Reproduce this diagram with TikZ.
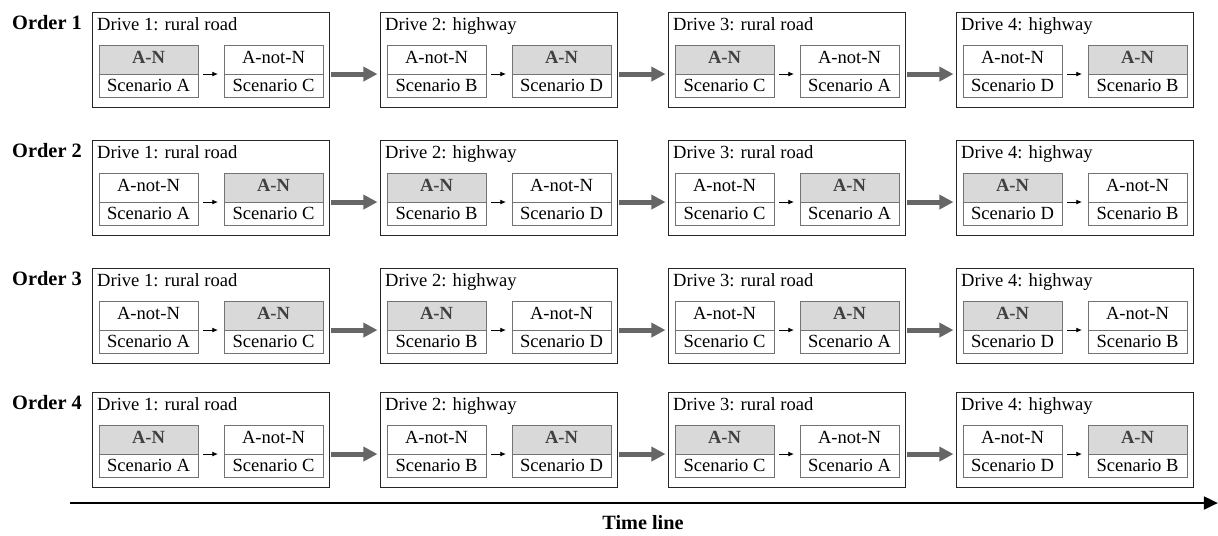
\documentclass[tikz,border=0pt]{standalone}
\usepackage{fontspec}
\setmainfont{Liberation Serif}
\usetikzlibrary{arrows.meta,shapes.multipart}

\begin{document}
\begin{tikzpicture}[x=0.025cm,y=-0.025cm,font=\fontsize{13.2}{15}\selectfont,
  drive/.style={draw=black!85,line width=0.7pt,minimum width=5.925cm,minimum height=2.375cm,anchor=north west,inner sep=0pt},
  title/.style={anchor=north west,inner xsep=3.5pt,inner ysep=4pt},
  scen/.style={rectangle split,rectangle split parts=2,draw=black!55,line width=0.6pt,minimum width=2.475cm,
    text height=9.6pt,text depth=3.6pt,inner ysep=3.4pt,inner xsep=2pt},
  scenan/.style={scen,rectangle split part fill={black!15,white}},
  smallarr/.style={-{Latex[length=4pt,width=3.5pt]},line width=0.6pt,shorten <=3.5pt,shorten >=4pt},
  bigarr/.style={-{Triangle[length=10pt,width=10pt]},line width=3.5pt,black!60,shorten <=5.5pt,shorten >=6.5pt},
  order/.style={anchor=north east,font=\fontsize{14.5}{16}\selectfont\bfseries,inner xsep=7pt,inner ysep=2pt},
]
\useasboundingbox (0,0) rectangle (1218,535);

% drives, scenarios and the short arrows inside each drive
\foreach \r/\y/\g in {1/12/1,2/140/2,3/268/2,4/392/1} {
  \foreach \c/\x/\road/\a/\b in {1/92/rural road/A/C,2/380/highway/B/D,3/668/rural road/C/A,4/956/highway/D/B} {
    \node[drive] (d\r\c) at (\x,\y) {};
    \node[title] (t\r\c) at (d\r\c.north west) {Drive \c: \road};
    \pgfmathtruncatemacro\k{mod(\c+\g,2)}
    \ifnum\k=0
      \node[scenan] (l\r\c) at (\x+56.5,\y+59) {\textcolor{black!75}{\textbf{A-N}}\nodepart{two}Scenario \a};
      \node[scen] (r\r\c) at (\x+181.5,\y+59) {A-not-N\nodepart{two}Scenario \b};
    \else
      \node[scen] (l\r\c) at (\x+56.5,\y+59) {A-not-N\nodepart{two}Scenario \a};
      \node[scenan] (r\r\c) at (\x+181.5,\y+59) {\textcolor{black!75}{\textbf{A-N}}\nodepart{two}Scenario \b};
    \fi
    \draw[smallarr] (l\r\c.text split east) -- (r\r\c.text split west);
  }
  \node[order] (o\r) at (d\r1.north west) {Order \r};
}

% arrows between drives
\foreach \r in {1,...,4}
  \foreach \c/\n in {1/2,2/3,3/4}
    \draw[bigarr] (r\r\c.text split east) -- (l\r\n.text split west);

\coordinate (tl0) at (70,503);
\coordinate (tl1) at (1218,503);
\draw[-{Triangle[length=10pt,width=9pt]},line width=2pt] (tl0) -- (tl1);
\node[font=\fontsize{14.4}{16}\selectfont\bfseries] (tlt) at (643,523) {Time line};
\end{tikzpicture}
\end{document}
